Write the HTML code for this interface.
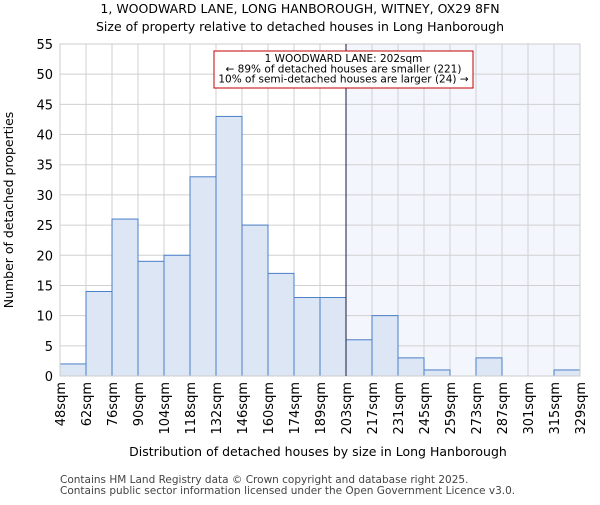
<!DOCTYPE html>
<html><head><meta charset="utf-8"><style>body{margin:0;background:#fff}svg{font-family:"DejaVu Sans","Liberation Sans",sans-serif}</style></head>
<body>
<svg id="c" width="600" height="500">
<text x="300" y="13" text-anchor="middle" font-size="12.5">1, WOODWARD LANE, LONG HANBOROUGH, WITNEY, OX29 8FN</text>
<text x="300" y="31" text-anchor="middle" font-size="12.5">Size of property relative to detached houses in Long Hanborough</text>
<g id="plot"></g>
<text x="318" y="456" text-anchor="middle" font-size="12.5">Distribution of detached houses by size in Long Hanborough</text>
<text transform="translate(13,210) rotate(-90)" text-anchor="middle" font-size="12.5">Number of detached properties</text>
<text x="60" y="483" font-size="10.5" fill="#444">Contains HM Land Registry data © Crown copyright and database right 2025.</text>
<text x="60" y="494" font-size="10.5" fill="#444">Contains public sector information licensed under the Open Government Licence v3.0.</text>
</svg>
<script>
const categories=["48sqm","62sqm","76sqm","90sqm","104sqm","118sqm","132sqm","146sqm","160sqm","174sqm","189sqm","203sqm","217sqm","231sqm","245sqm","259sqm","273sqm","287sqm","301sqm","315sqm","329sqm"];
const counts=[2,14,26,19,20,33,43,25,17,13,13,6,10,3,1,0,3,0,0,1];
const yTicks=[0,5,10,15,20,25,30,35,40,45,50,55];
const markerBin=11;
const NS="http://www.w3.org/2000/svg";
const L=60,R=580,T=44,B=376,yMax=55;
const bw=(R-L)/counts.length;
const xs=i=>L+i*bw, ys=v=>B-(v/yMax)*(B-T);
const g=document.getElementById('plot');
function mk(t,a,p){const e=document.createElementNS(NS,t);for(const k in a)e.setAttribute(k,a[k]);(p||g).appendChild(e);return e;}
let e=mk('rect',{x:xs(markerBin),y:T,width:R-xs(markerBin),height:B-T,fill:"#f4f6fd"});


yTicks.forEach(v=>{let l=mk('line',{x1:L,x2:R,y1:ys(v),y2:ys(v),stroke:"#d0d0d0"});


let t=mk('text',{x:L-7,y:ys(v)+5,"text-anchor":"end","font-size":"13"});t.textContent=v;

});
categories.forEach((c,i)=>{let l=mk('line',{x1:xs(i),x2:xs(i),y1:T,y2:B,stroke:"#d0d0d0"});


let t=mk('text',{transform:`translate(${xs(i)+5},${B+6}) rotate(-90)`,"text-anchor":"end","font-size":"13"});t.textContent=c;

});
counts.forEach((v,i)=>{if(v<=0)return;let r=mk('rect',{x:xs(i),y:ys(v),width:bw,height:B-ys(v),fill:"#dce6f5",stroke:"#4a7fc8","stroke-width":1});

});
e=mk('rect',{x:L,y:T,width:R-L,height:B-T,fill:"none",stroke:"#ccc"});


e=mk('line',{x1:xs(markerBin),x2:xs(markerBin),y1:T,y2:B,stroke:"#1a1a40","stroke-width":1});


e=mk('rect',{x:214,y:51,width:259,height:37,fill:"#fff",stroke:"#c00000"});


["1 WOODWARD LANE: 202sqm","← 89% of detached houses are smaller (221)","10% of semi-detached houses are larger (24) →"].forEach((s,k)=>{let t=mk('text',{x:343.5,y:62+k*10.3,"text-anchor":"middle","font-size":"10.5"});t.textContent=s;

});
</script>
</body></html>
